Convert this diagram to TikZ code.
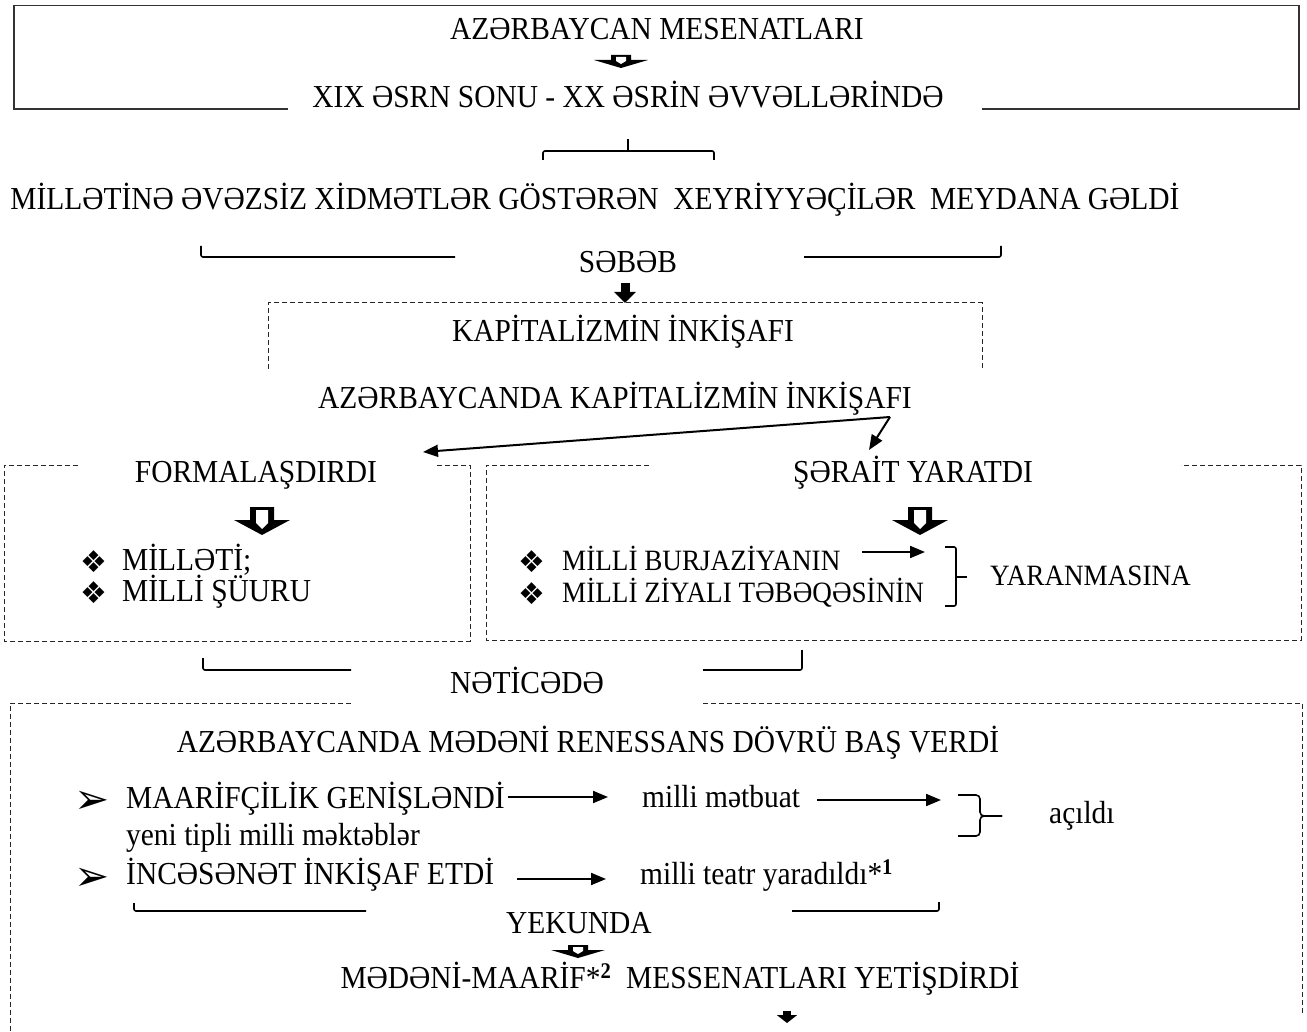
\documentclass[tikz,border=0pt]{standalone}
\usepackage{fontspec}
\setmainfont[FakeStretch=0.92]{Liberation Serif}
\newfontfamily\symfont{DejaVu Sans}
\usetikzlibrary{arrows.meta}
\tikzset{
  txt/.style={inner sep=0pt, font=\fontsize{32}{36}\selectfont, anchor=base},
  txtl/.style={txt, anchor=base west},
  txts/.style={inner sep=0pt, font=\fontsize{29.5}{34}\selectfont, anchor=base west},
  sym/.style={inner sep=0pt, font=\symfont\fontsize{30}{32}\selectfont, anchor=base west},
  symarr/.style={inner sep=0pt, font=\symfont\fontsize{42}{44}\selectfont, anchor=base west},
  sline/.style={line width=1.5pt, draw=black!80},
  dbox/.style={line width=1pt, draw=black!85, dash pattern=on 5pt off 3pt},
  brk/.style={line width=1.6pt, rounded corners=2pt},
  arr/.style={line width=2pt, -{Triangle[length=15pt,width=12pt]}},
  fat/.style={line width=9pt, -{Triangle[length=11pt,width=21pt]}},
  fatsmall/.style={line width=8pt, -{Triangle[length=8pt,width=20pt]}},
  hollowbig/.pic={
    \fill (-12,0) -- (12,0) -- (12,13) -- (28,13) -- (0,28) -- (-28,13) -- (-12,13) -- cycle;
    \fill[white] (-6,3) -- (6,3) -- (6,16) -- (0,22) -- (-6,16) -- cycle;
  },
  hollowsmall/.pic={
    \fill (-10,0) -- (10,0) -- (10,5) -- (27,5) -- (0,13) -- (-27,5) -- (-10,5) -- cycle;
    \fill[white] (-5,2) -- (5,2) -- (5,6) -- (0,9) -- (-5,6) -- cycle;
  }
}
\begin{document}
\begin{tikzpicture}[x=1pt,y=-1pt]
\useasboundingbox (0,0) rectangle (1307,1032);
\fill[white] (0,0) rectangle (1307,1032);

% ---- top box
\draw[sline] (288,109) -- (14,109) -- (14,5.5) -- (1299,5.5) -- (1299,109) -- (982,109);
\node[txt] (title) at (657,40) {AZƏRBAYCAN MESENATLARI};
\pic at (621,55) {hollowsmall};
\node[txt] (period) at (628,108) {XIX ƏSRN SONU - XX ƏSRİN ƏVVƏLLƏRİNDƏ};

% bracket under period
\draw[brk] (543,160) -- (543,151) -- (714,151) -- (714,160);
\draw[brk] (628,151) -- (628,139);

\node[txt] (mesenat) at (595,210) {MİLLƏTİNƏ ƏVƏZSİZ XİDMƏTLƏR GÖSTƏRƏN\ \ XEYRİYYƏÇİLƏR\ \ MEYDANA GƏLDİ};
\draw[brk] (201,246) -- (201,257) -- (455,257);
\draw[brk] (804,257) -- (1001,257) -- (1001,246);
\node[txt] (sebeb) at (628,273) {SƏBƏB};
\coordinate (sebebA) at (625,283);
\coordinate (kboxtop) at (625,303);
\draw[fat] (sebebA) -- (kboxtop);

% ---- kapitalizm box
\draw[dbox] (268,369) -- (268,303) -- (982,303) -- (982,369);
\node[txt] (kap) at (623,342) {KAPİTALİZMİN İNKİŞAFI};
\node[txt] (azkap) at (615,408) {AZƏRBAYCANDA KAPİTALİZMİN İNKİŞAFI};
\coordinate (split) at (890,417);
\coordinate (formtip) at (423,452);
\coordinate (sertip) at (869,450);
\draw[arr] (split) -- (formtip);
\draw[arr] (split) -- (sertip);

% ---- left box
\draw[dbox] (78,465) -- (4,465) -- (4,641) -- (470,641) -- (470,465) -- (436,465);
\node[txt] (form) at (256,482) {FORMALAŞDIRDI};
\pic at (262,507) {hollowbig};
\node[sym] (b1) at (80,572) {❖};
\node[txtl] (millet) at (122,570) {MİLLƏTİ;};
\node[sym] (b2) at (80,603) {❖};
\node[txtl] (shuur) at (122,601) {MİLLİ ŞÜURU};

% ---- right box
\draw[dbox] (649,465) -- (486,465) -- (486,640) -- (1301,640) -- (1301,465) -- (1181,465);
\node[txt] (serait) at (913,482) {ŞƏRAİT YARATDI};
\pic at (920,507) {hollowbig};
\node[sym] (b3) at (518,572) {❖};
\node[txts] (burj) at (562,570) {MİLLİ BURJAZİYANIN};
\node[sym] (b4) at (518,604) {❖};
\node[txts] (ziyali) at (562,602) {MİLLİ ZİYALI TƏBƏQƏSİNİN};
\coordinate (burjA) at (862,552);
\coordinate (burjB) at (925,552);
\draw[arr] (burjA) -- (burjB);
\draw[brk] (945,547) -- (956,547) -- (956,606) -- (945,606);
\draw[line width=1.6pt] (956,577) -- (967,577);
\node[txts] (yaran) at (990,585) {YARANMASINA};

% bracket under boxes
\draw[brk] (203,658) -- (203,670) -- (351,670);
\draw[brk] (703,670) -- (802,670) -- (802,650);
\node[txt] (netice) at (527,693) {NƏTİCƏDƏ};

% ---- bottom box
\draw[dbox] (351,703) -- (10,703) -- (10,1036);
\draw[dbox] (703,703) -- (1302,703) -- (1302,1014);
\node[txt] (renes) at (588,752) {AZƏRBAYCANDA MƏDƏNİ RENESSANS DÖVRÜ BAŞ VERDİ};
\node[symarr] (b5) at (74,813) {➢};
\node[txtl] (maarif) at (126,808) {MAARİFÇİLİK GENİŞLƏNDİ};
\node[txtl] (metbuat) at (642,807) {milli mətbuat};
\node[txtl] (acildi) at (1049,823) {açıldı};
\node[txtl] (mekteb) at (126,845) {yeni tipli milli məktəblər};
\node[symarr] (b6) at (74,890) {➢};
\node[txtl] (incesenet) at (126,884) {İNCƏSƏNƏT İNKİŞAF ETDİ};
\node[txtl] (teatr) at (640,884) {milli teatr yaradıldı*\textsuperscript{\textbf{1}}};
\coordinate (mA) at (508,797);
\coordinate (mB) at (608,797);
\coordinate (tA) at (817,800);
\coordinate (tB) at (941,800);
\coordinate (iA) at (517,879);
\coordinate (iB) at (606,879);
\draw[arr] (mA) -- (mB);
\draw[arr] (tA) -- (tB);
\draw[arr] (iA) -- (iB);
\draw[line width=1.6pt, rounded corners=4pt] (958,795) -- (980,795) -- (980,816) -- (1002,816);
\draw[line width=1.6pt, rounded corners=4pt] (1002,816) -- (980,816) -- (980,836) -- (958,836);

\draw[brk] (134,903) -- (134,911) -- (366,911);
\draw[brk] (792,911) -- (939,911) -- (939,902);
\node[txt] (yekun) at (579,933) {YEKUNDA};
\pic at (578,945) {hollowsmall};
\node[txt] (yetis) at (680,988) {MƏDƏNİ-MAARİF*\textsuperscript{\textbf{2}}\ \ MESSENATLARI YETİŞDİRDİ};
\coordinate (botA) at (787,1011);
\coordinate (botB) at (787,1023);
\draw[fatsmall] (botA) -- (botB);
\end{tikzpicture}
\end{document}
